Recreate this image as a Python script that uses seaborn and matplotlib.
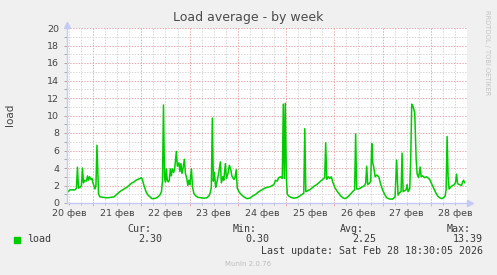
import matplotlib
matplotlib.use("Agg")
import matplotlib.pyplot as plt
import matplotlib.dates as mdates
from matplotlib.ticker import MultipleLocator, NullFormatter
from matplotlib.patches import Rectangle
import pandas as pd
import seaborn as sns

# ---- data: hours since window start (2026-02-20 11:00) and load values ----
WINDOW_START = "2026-02-20 11:00"
WINDOW_HOURS = 199

hours = [
    0, 1.5, 4.0, 4.7, 5.2, 5.7, 6.5, 7.2, 7.7, 8.2, 8.9, 9.7, 10.2, 10.7, 11.2, 11.9, 12.4, 12.9, 13.4, 13.9,
    14.4, 14.9, 15.7, 16.4, 17.9, 19.4, 20.4, 21.9, 23.4,
    24.8, 26.3, 28.3, 29.8, 31.3, 32.3, 33.3, 34.3, 35.3, 36.3, 37.0, 37.5, 38.3, 39.3, 40.3, 41.3, 42.2, 43.2,
    44.2, 45.2, 46.2, 47.0, 47.5,
    48.0, 48.5, 49.0, 49.4, 49.9, 50.4, 50.9, 51.4, 51.9, 52.4, 53.1, 53.6, 54.4, 54.9, 55.7, 56.2, 56.7, 57.2,
    57.7, 58.4, 58.9, 59.6, 60.1, 60.6, 61.1, 61.9, 62.4, 63.1, 64.1, 65.1, 66.6, 68.1, 69.6, 70.6, 71.3, 71.8,
    72.3, 72.8, 73.3, 74.0, 74.5, 75.3, 76.3, 76.8, 77.5, 78.0, 78.8, 79.3, 80.0, 80.8, 81.5, 82.0, 83.0, 83.5,
    84.2, 84.7, 85.5, 86.5, 88.0, 89.5, 90.9, 92.4, 93.9, 95.4,
    96.9, 98.4, 99.9, 101.4, 102.9, 103.8, 104.6, 105.3, 106.3, 107.1, 107.6, 108.1, 108.6, 109.1, 109.6, 110.3,
    111.3, 112.8, 114.3, 115.8, 117.0, 117.8, 118.3, 118.8, 119.8,
    121.3, 122.8, 124.2, 125.7, 127.2, 128.2, 128.7, 129.2, 130.0, 130.7, 131.5, 132.2, 133.2, 134.2, 135.2,
    136.2, 137.2, 138.2, 139.2, 140.6, 142.1, 143.1, 143.6, 144.1,
    145.1, 146.6, 148.1, 148.6, 149.1, 149.6, 150.6, 151.1, 151.6, 152.1, 152.6, 153.3, 154.1, 155.1, 156.1,
    157.0, 158.0, 159.0, 160.5, 162.0, 163.2, 164.0, 164.7, 165.5, 166.2, 166.7, 167.2, 168.0, 168.7, 169.2,
    169.7, 170.5,
    171.0, 171.5, 172.2, 173.0, 173.7, 174.2, 174.9, 175.7, 176.2, 176.9, 177.9, 178.9, 180.4, 181.4, 182.4,
    183.4, 184.4, 185.4, 186.4, 187.4, 188.1, 188.6, 189.1, 189.6, 190.1, 190.8, 191.8, 192.8, 193.3, 193.8,
    194.3, 195.3, 196.3, 196.8, 197.3, 197.8,
]

load = [
    1.2, 1.5, 1.5, 1.7, 4.1, 1.7, 1.8, 2.0, 4.0, 2.3, 2.6, 2.5, 3.1, 2.6, 3.0, 2.7, 2.8, 2.3, 2.0, 1.6,
    2.0, 6.6, 1.0, 0.7, 0.65, 0.6, 0.6, 0.65, 0.7,
    1.0, 1.3, 1.6, 1.8, 2.1, 2.3, 2.4, 2.6, 2.7, 2.8, 2.9, 2.7, 2.0, 1.3, 0.9, 0.7, 0.5, 0.5,
    0.55, 0.7, 0.9, 1.3, 2.5,
    11.2, 3.0, 2.4, 3.9, 2.6, 2.4, 2.6, 3.9, 3.1, 3.9, 3.5, 4.0, 5.9, 4.2, 4.6, 3.6, 4.5, 3.4,
    3.9, 5.0, 3.4, 2.8, 2.0, 2.6, 2.1, 3.9, 1.9, 1.1, 0.8, 0.65, 0.6, 0.55, 0.6, 0.8, 1.2, 1.8,
    9.7, 2.5, 3.5, 1.8, 2.3, 3.2, 4.7, 2.3, 3.0, 2.6, 4.5, 2.8, 3.3, 4.3, 3.8, 3.1, 2.7, 2.8,
    3.8, 1.7, 1.3, 1.0, 0.7, 0.5, 0.55, 0.8, 1.0, 1.3,
    1.5, 1.7, 1.8, 1.9, 2.1, 2.6, 2.5, 2.9, 3.0, 2.8, 11.3, 2.8, 11.4, 3.0, 1.0, 0.8,
    0.65, 0.55, 0.6, 0.8, 1.0, 1.1, 8.5, 1.3, 1.4,
    1.6, 1.9, 2.1, 2.4, 2.7, 2.9, 6.9, 2.7, 3.0, 2.8, 3.0, 2.4, 1.8, 1.4, 1.1,
    0.8, 0.6, 0.5, 0.6, 0.9, 1.3, 1.5, 7.9, 1.6,
    1.6, 1.8, 2.0, 2.3, 4.2, 2.1, 2.3, 2.5, 6.8, 4.6, 4.1, 3.0, 3.2, 3.0, 2.1,
    1.5, 1.0, 0.6, 0.45, 0.45, 0.7, 4.9, 0.9, 1.2, 1.3, 5.7, 1.3, 1.4, 1.5, 2.1,
    1.3, 1.6,
    5.0, 11.3, 11.0, 10.3, 5.0, 3.3, 2.9, 4.1, 3.0, 3.1, 2.9, 3.0, 2.7, 2.2, 1.7,
    1.2, 0.8, 0.6, 0.5, 0.6, 0.8, 1.5, 7.6, 3.0, 1.6, 1.8, 2.0, 2.1, 2.4, 3.3,
    2.2, 2.1, 2.0, 2.4, 2.6, 2.3,
]

day_labels = ["20 фев", "21 фев", "22 фев", "23 фев", "24 фев", "25 фев", "26 фев", "27 фев", "28 фев"]
stat_headers = ["Cur:", "Min:", "Avg:", "Max:"]
stat_values = ["2.30", "0.30", "2.25", "13.39"]
series_name = "load"
title = "Load average - by week"
last_update = "Last update: Sat Feb 28 18:30:05 2026"

# ---- styling ----
sns.set_theme(style="white")
plt.rcParams["font.family"] = ["DejaVu Sans"]

GREEN = "#00CC00"
AXIS_C = "#C4CAF2"
TXT = "#454545"

start = pd.Timestamp(WINDOW_START)
end = start + pd.Timedelta(hours=WINDOW_HOURS)
df = pd.DataFrame({"time": start + pd.to_timedelta(hours, unit="h"), "load": load})

W, H = 497, 275
fig = plt.figure(figsize=(W / 100, H / 100), dpi=100, facecolor="#F0F0F0")
ax = fig.add_axes([67 / W, 1 - 203 / H, 400 / W, 175 / H])
ax.set_facecolor("white")

sns.lineplot(data=df, x="time", y="load", ax=ax, color=GREEN, lw=1.1, legend=False)

ax.set_xlim(start, end)
ax.set_ylim(0, 20)
ax.set_xlabel("")
ax.set_ylabel("")

# grids
ax.yaxis.set_major_locator(MultipleLocator(2))
ax.yaxis.set_minor_locator(MultipleLocator(1))
ax.xaxis.set_major_locator(mdates.DayLocator())
ax.xaxis.set_minor_locator(mdates.HourLocator(byhour=[0, 6, 12, 18]))
ax.xaxis.set_major_formatter(NullFormatter())
ax.xaxis.set_minor_formatter(NullFormatter())
ax.set_axisbelow(True)
ax.grid(which="minor", color="#D6D6D6", ls=(0, (1.4, 1.4)), lw=0.72)
ax.grid(which="major", color="#E8AAAA", ls=(0, (1.4, 1.4)), lw=0.72)

ax.tick_params(axis="y", which="both", left=True, length=2.5, width=0.7, color="#A8A8A8",
               labelsize=6.8, labelcolor=TXT, pad=3)
ax.tick_params(axis="x", which="major", bottom=True, length=2.5, width=0.7, color="#E8AAAA")
ax.tick_params(axis="x", which="minor", bottom=True, length=1.5, width=0.7, color="#BBBBBB")

for s in ["top", "right"]:
    ax.spines[s].set_visible(False)
for s in ["left", "bottom"]:
    ax.spines[s].set_color(AXIS_C)
    ax.spines[s].set_linewidth(1.0)

# arrows on axes
ax.plot([0], [1.017], marker="^", ms=4.5, color=AXIS_C, transform=ax.transAxes, clip_on=False)
ax.plot([1.008], [0], marker=">", ms=4.5, color=AXIS_C, transform=ax.transAxes, clip_on=False)

# day labels centred on noon
noons = pd.date_range(start.normalize() + pd.Timedelta(hours=12), periods=len(day_labels), freq="D")
sec = ax.secondary_xaxis("bottom")
sec.set_xticks(mdates.date2num(noons), labels=day_labels)
sec.tick_params(length=0, labelsize=6.8, labelcolor=TXT, pad=4)
sec.spines["bottom"].set_visible(False)

# texts
fig.text(0.5, 1 - 18 / H, title, ha="center", va="center", fontsize=9, color="#4A4A4A")
fig.text(9.5 / W, 1 - 115 / H, series_name, rotation=90, ha="center", va="center", fontsize=7.5, color=TXT)
fig.text(487.5 / W, 1 - 53 / H, "RRDTOOL / TOBI OETIKER", rotation=270, ha="center", va="center",
         fontsize=4.8, color="#C4C4C4")

mono = dict(family="DejaVu Sans Mono", fontsize=7.2, color="#3A3A3A")
fig.patches.append(Rectangle((14 / W, 1 - 243 / H), 6 / W, 6 / H, color=GREEN, transform=fig.transFigure))
fig.text(27 / W, 1 - 239.5 / H, series_name, ha="left", va="center", **mono)
header_x = [127, 233, 340, 447]
value_right = [162, 269, 376, 483]
for hx, lbl in zip(header_x, stat_headers):
    fig.text(hx / W, 1 - 228.5 / H, lbl, ha="left", va="center", **mono)
for vx, val in zip(value_right, stat_values):
    fig.text(vx / W, 1 - 239.5 / H, val, ha="right", va="center", **mono)
fig.text(483 / W, 1 - 251 / H, last_update, ha="right", va="center", **mono)
fig.text(248 / W, 1 - 264 / H, "Munin 2.0.76", ha="center", va="center", fontsize=5, color="#BDBDBD")

fig.savefig("out.png", dpi=100, facecolor=fig.get_facecolor())
